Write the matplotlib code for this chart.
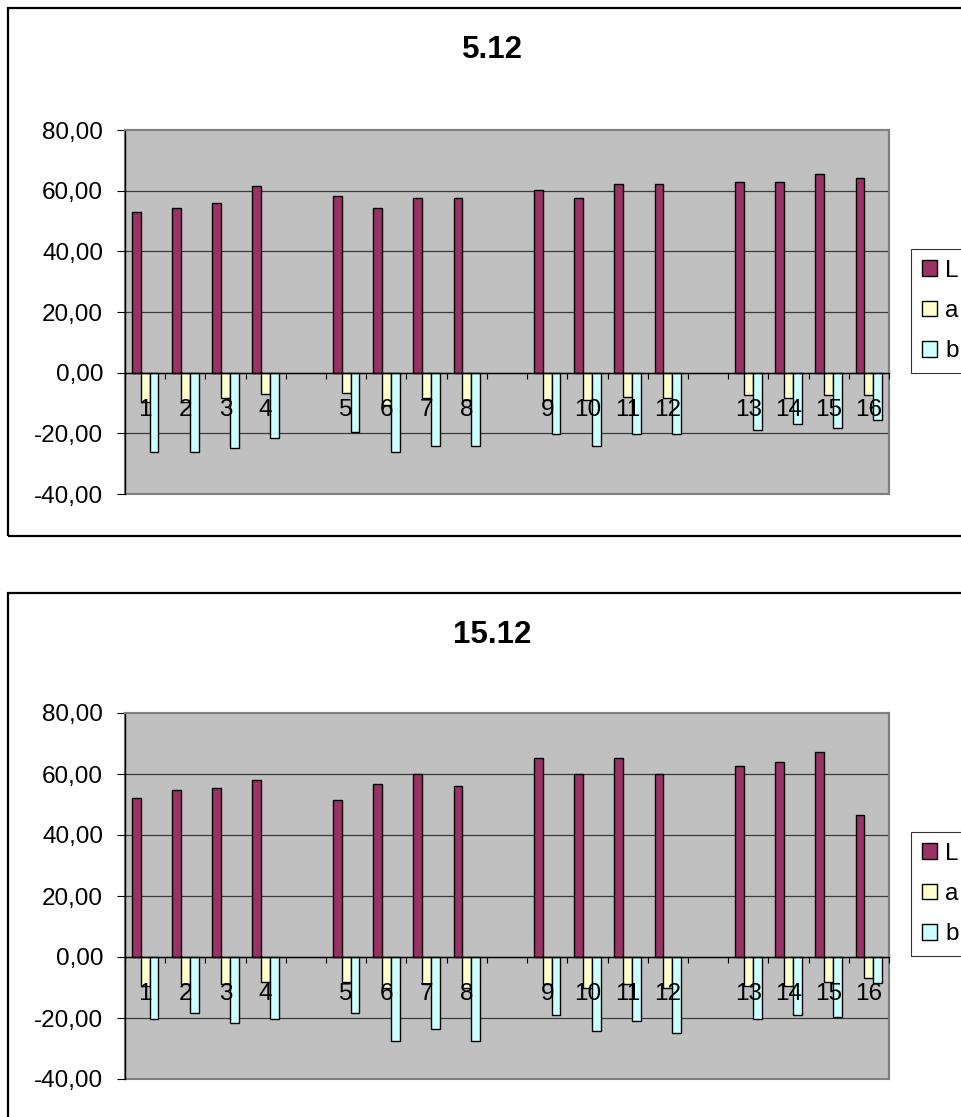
import numpy as np
import matplotlib
matplotlib.use("Agg")
import matplotlib.pyplot as plt
from matplotlib.patches import Rectangle
from matplotlib.ticker import FuncFormatter, FixedLocator

plt.rcParams['font.family'] = ['Liberation Sans', 'DejaVu Sans']

# Categories (blank slots separate the groups of four)
categories = ['1', '2', '3', '4', '', '5', '6', '7', '8', '',
              '9', '10', '11', '12', '', '13', '14', '15', '16']
series_names = ['L', 'a', 'b']

# Chart "5.12"
title1 = '5.12'
L1 = [53.1, 54.4, 55.8, 61.6, None, 58.4, 54.4, 57.7, 57.7, None,
      60.3, 57.7, 62.3, 62.3, None, 63.0, 63.0, 65.6, 64.3]
a1 = [-9.7, -9.7, -8.3, -7.1, None, -6.6, -10.5, -8.3, -9.0, None,
      -9.0, -9.0, -7.9, -8.3, None, -7.2, -8.3, -7.2, -7.2]
b1 = [-26.2, -26.2, -25.0, -21.7, None, -19.7, -26.2, -24.3, -24.3, None,
      -20.3, -24.3, -20.3, -20.3, None, -19.0, -17.0, -18.4, -15.7]

# Chart "15.12"
title2 = '15.12'
L2 = [52.2, 54.8, 55.5, 58.1, None, 51.6, 56.8, 60.1, 56.1, None,
      65.3, 60.1, 65.3, 60.1, None, 62.7, 64.0, 67.2, 46.4]
a2 = [-9.6, -8.9, -8.9, -8.3, None, -8.3, -10.2, -8.9, -10.2, None,
      -8.9, -10.2, -8.9, -10.2, None, -9.6, -9.6, -8.3, -7.0]
b2 = [-20.2, -18.3, -21.5, -20.2, None, -18.3, -27.4, -23.5, -27.4, None,
      -18.9, -24.2, -20.9, -24.8, None, -20.2, -18.9, -19.6, -8.6]

y_ticks = [-40, -20, 0, 20, 40, 60, 80]
colors = ['#993366', '#FFFFCC', '#CCFFFF']

W, H = 962, 1117
fig = plt.figure(figsize=(W / 100, H / 100), dpi=100)
fig.patch.set_facecolor('white')

FS = 17.5


def fx(px):
    return px / W


def fy(py):
    return 1 - py / H


def to_arr(v):
    return np.array([np.nan if x is None else x for x in v], dtype=float)


def draw_chart(frame_top, frame_bottom, ax_top, ax_bottom, title, title_base, data, legend_cy):
    # chart frame
    fig.patches.append(Rectangle((fx(8), fy(frame_bottom)), fx(1100), fy(frame_top) - fy(frame_bottom),
                                 transform=fig.transFigure, fill=False, edgecolor='black',
                                 linewidth=1.6, zorder=0))
    fig.text(fx(492), fy(title_base), title, ha='center', va='baseline',
             fontsize=22.5, fontweight='bold')

    ax = fig.add_axes([fx(125), fy(ax_bottom), fx(889) - fx(125), fy(ax_top) - fy(ax_bottom)])
    ax.set_facecolor('#C0C0C0')
    n = len(categories)
    x = np.arange(n)
    w = 0.22
    handles = []
    for i, (vals, name) in enumerate(zip(data, series_names)):
        h = ax.bar(x + (i - 1) * w, to_arr(vals), width=w, color=colors[i],
                   edgecolor='black', linewidth=1.0, label=name, zorder=2)
        handles.append(h)
    ax.set_xlim(-0.5, n - 0.5)
    ax.set_ylim(-40, 80)
    ax.yaxis.set_major_locator(FixedLocator(y_ticks))
    ax.yaxis.set_major_formatter(FuncFormatter(lambda v, p: f"{v:.2f}".replace('.', ',')))
    for yv in y_ticks[1:-1]:
        ax.axhline(yv, color='#3a3a3a', linewidth=0.9, zorder=1)

    ax.set_xticks(x)
    ax.set_xticklabels(categories)
    ax.set_xticks(np.arange(n + 1) - 0.5, minor=True)
    ax.tick_params(axis='x', which='major', length=0, pad=19, labelsize=FS)
    ax.tick_params(axis='x', which='minor', length=4.5, width=0.8, direction='out', color='black')
    ax.tick_params(axis='y', length=5.8, width=0.8, direction='out', pad=10, labelsize=FS,
                   color='black')

    ax.spines['bottom'].set_position(('data', 0))
    ax.spines['bottom'].set_color('black')
    ax.spines['bottom'].set_linewidth(1.0)
    ax.spines['bottom'].set_zorder(3)
    ax.spines['left'].set_color('black')
    ax.spines['left'].set_linewidth(1.0)
    for s in ['top', 'right']:
        ax.spines[s].set_color('#808080')
        ax.spines[s].set_linewidth(1.5)
    ax.add_patch(Rectangle((0, 0), 1, 1, transform=ax.transAxes, fill=False,
                           edgecolor='#808080', linewidth=1.5, clip_on=False, zorder=0.5))
    ax.xaxis.set_zorder(4)

    leg = fig.legend(handles=handles, labels=series_names, loc='center left',
                     bbox_to_anchor=(fx(911), fy(legend_cy)), bbox_transform=fig.transFigure,
                     borderaxespad=0, frameon=True, fancybox=False, fontsize=FS,
                     handlelength=0.62, handleheight=0.62, handletextpad=0.33,
                     labelspacing=0.75, borderpad=0.45)
    leg.get_frame().set_edgecolor('black')
    leg.get_frame().set_linewidth(0.8)
    return ax


draw_chart(8, 536, 130, 494, title1, 58, [L1, a1, b1], 311)
draw_chart(593, 1400, 713, 1079, title2, 643, [L2, a2, b2], 894)

fig.savefig('out.png', dpi=100)
